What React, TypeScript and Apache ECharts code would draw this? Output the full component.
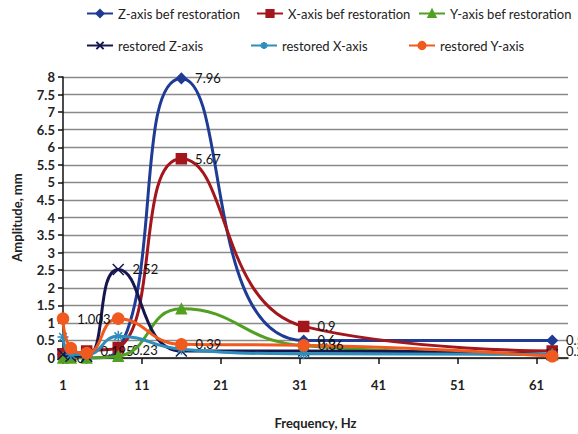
import React, { useEffect, useRef } from "react";
import * as echarts from "echarts";

const FREQ = [1, 2, 4, 8, 16, 31.5, 63];
const Z_BEF = [0.1, 0.05, 0.0, 0.23, 7.96, 0.5, 0.5];
const X_BEF = [0.12, 0.1, 0.2, 0.3, 5.67, 0.9, 0.2];
const Y_BEF = [0.0, 0.0, 0.0, 0.05, 1.4, 0.35, 0.1];
const Z_RES = [0.1, 0.05, 0.05, 2.52, 0.2, 0.2, 0.1];
const X_RES = [0.6, 0.1, 0.1, 0.62, 0.25, 0.12, 0.1];
const Y_RES = [1.12, 0.28, 0.14, 1.12, 0.39, 0.36, 0.05];

const Z_BEF_LABELS = ["", "", "", "0.23", "7.96", "0.6", "0.5"];
const X_BEF_LABELS = ["", "", "0.195", "", "5.67", "0.9", "0.2"];
const Y_BEF_LABELS = ["0", "", "", "", "", "", ""];
const Z_RES_LABELS = ["", "", "", "2.52", "", "", ""];
const X_RES_LABELS = ["", "", "", "", "", "", ""];
const Y_RES_LABELS = ["1.003", "", "", "", "0.39", "0.36", ""];

const SERIES_NAMES = [
  "Z-axis bef restoration",
  "X-axis bef restoration",
  "Y-axis bef restoration",
  "restored Z-axis",
  "restored X-axis",
  "restored Y-axis",
];

const FONT = "Lato, 'Open Sans', sans-serif";

const CROSS = "path://M0,0 L10,10 M10,0 L0,10";
const STAR = "path://M5,0 L5,10 M0,5 L10,5 M1.5,1.5 L8.5,8.5 M8.5,1.5 L1.5,8.5";

function build(values: number[], labels: string[]) {
  return values.map((v, i) => {
    const item: any = { value: [FREQ[i], v] };
    if (labels[i]) {
      item.label = { show: true, formatter: labels[i] };
    }
    return item;
  });
}

export default function App() {
  const ref = useRef<HTMLDivElement>(null);
  useEffect(() => {
    if (!ref.current) return;
    const chart = echarts.init(ref.current, null, { renderer: "svg" });
    const specs = [
      { vals: Z_BEF, labels: Z_BEF_LABELS, color: "#1f3b94", symbol: "diamond", size: 10 },
      { vals: X_BEF, labels: X_BEF_LABELS, color: "#a3161b", symbol: "rect", size: 10 },
      { vals: Y_BEF, labels: Y_BEF_LABELS, color: "#52a022", symbol: "triangle", size: 10 },
      { vals: Z_RES, labels: Z_RES_LABELS, color: "#16164f", symbol: CROSS, size: 11 },
      { vals: X_RES, labels: X_RES_LABELS, color: "#2f8dbb", symbol: STAR, size: 11 },
      { vals: Y_RES, labels: Y_RES_LABELS, color: "#f05a1e", symbol: "circle", size: 11 },
    ];
    const series = specs.map((s, i) => ({
      name: SERIES_NAMES[i],
      type: "line",
      smooth: 0.5,
      data: build(s.vals, s.labels),
      symbol: s.symbol,
      symbolSize: s.size,
      showAllSymbol: true,
      lineStyle: { color: s.color, width: 3 },
      itemStyle: { color: s.color, borderColor: s.color, borderWidth: 1.5 },
      label: {
        show: false,
        position: "right",
        distance: 8,
        color: "#111",
        fontSize: 13,
        fontFamily: FONT,
      },
      z: 2 + i,
    }));
    const legendPos = [
      { left: 86, top: 7 },
      { left: 256, top: 7 },
      { left: 418, top: 7 },
      { left: 86, top: 39 },
      { left: 250, top: 39 },
      { left: 408, top: 39 },
    ];
    const legend = SERIES_NAMES.map((n, i) => ({
      data: [n],
      left: legendPos[i].left,
      top: legendPos[i].top,
      itemWidth: 26,
      itemHeight: 9,
      itemGap: 4,
      padding: 0,
      textStyle: { fontSize: 13, fontFamily: FONT, color: "#222" },
    }));
    chart.setOption({
      animation: false,
      backgroundColor: "#fff",
      legend,
      grid: { left: 63, right: 10, top: 77, bottom: 69 },
      xAxis: {
        type: "value",
        min: 1,
        max: 65,
        interval: 10,
        name: "Frequency, Hz",
        nameLocation: "middle",
        nameGap: 58,
        nameTextStyle: { fontSize: 13, fontWeight: "bold", fontFamily: FONT, color: "#222" },
        axisLine: { show: true, lineStyle: { color: "#111", width: 1.5 } },
        axisTick: { show: true, length: 6, lineStyle: { color: "#111", width: 1.5 } },
        axisLabel: {
          showMaxLabel: false,
          margin: 20,
          fontSize: 13,
          fontWeight: "bold",
          fontFamily: FONT,
          color: "#222",
        },
        splitLine: { show: false },
      },
      yAxis: {
        type: "value",
        min: 0,
        max: 8,
        interval: 0.5,
        name: "Amplitude, mm",
        nameLocation: "middle",
        nameGap: 40,
        nameTextStyle: { fontSize: 13, fontWeight: "bold", fontFamily: FONT, color: "#222" },
        axisLine: { show: true, lineStyle: { color: "#111", width: 1.5 } },
        axisTick: { show: true, length: 5, lineStyle: { color: "#111", width: 1.5 } },
        axisLabel: {
          margin: 8,
          fontSize: 13,
          fontWeight: "bold",
          fontFamily: FONT,
          color: "#222",
        },
        splitLine: { show: true, lineStyle: { color: "#8a8a8a", width: 1.3 } },
      },
      series,
    });
    return () => chart.dispose();
  }, []);
  return (
    <div
      ref={ref}
      style={{ position: "absolute", left: 0, top: 0, width: 578, height: 434 }}
    />
  );
}
